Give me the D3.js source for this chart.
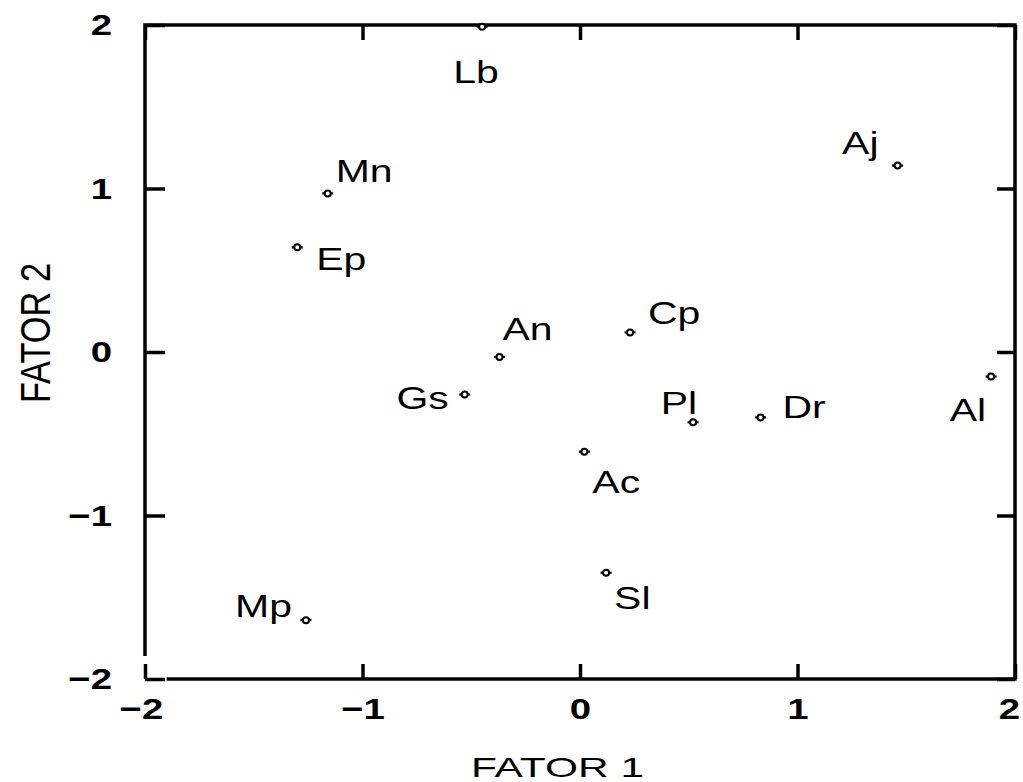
<!DOCTYPE html>
<html>
<head>
<meta charset="utf-8">
<script src="https://cdn.jsdelivr.net/npm/d3@7"></script>
<style>
  body { margin: 0; background: #fff; }
  svg { display: block; }
  text { font-family: "Liberation Sans", Arial, sans-serif; fill: #000; }
</style>
</head>
<body>
<div id="chart"></div>
<script>
// scores on the two factors, one entry per item
var names  = ['Lb', 'Mn', 'Ep', 'An', 'Gs', 'Cp', 'Pl', 'Dr', 'Ac', 'Sl', 'Aj', 'Al', 'Mp'];
var fator1 = [-0.45, -1.16, -1.30, -0.37, -0.53, 0.23, 0.52, 0.83, 0.02, 0.12, 1.46, 1.89, -1.26];
var fator2 = [1.99, 0.97, 0.64, -0.03, -0.26, 0.12, -0.43, -0.40, -0.61, -1.35, 1.14, -0.15, -1.64];
var tickValues = [-2, -1, 0, 1, 2];

// where each name sits next to its point (pixels), and which side it is anchored
var labelPlace = {
  Lb: [-29, 56, 'start'], Mn: [8, -11, 'start'], Ep: [19, 23, 'start'],
  An: [3, -17, 'start'],  Gs: [-16, 14, 'end'],  Cp: [18, -8, 'start'],
  Pl: [4, -8, 'end'],     Dr: [22, 1, 'start'],  Ac: [8, 41, 'start'],
  Sl: [8, 36, 'start'],   Aj: [-19, -12, 'end'], Al: [-5, 44, 'end'],
  Mp: [-14, -3, 'end']
};

var W = 1023, H = 782;
var stretch = 1.28; // the scanned letters are wide

var svg = d3.select('#chart').append('svg')
  .attr('width', W).attr('height', H);

var x = d3.scaleLinear().domain([-2, 2]).range([145, 1015]);
var y = d3.scaleLinear().domain([-2, 2]).range([679, 25]);
var fmt = d3.format('d');

function styleAxis(g, showText) {
  g.select('.domain').remove();
  g.selectAll('.tick line').attr('stroke', '#000').attr('stroke-width', 3.5);
  if (!showText) g.selectAll('.tick text').remove();
  g.selectAll('.tick text')
    .style('font-size', '30px')
    .style('font-weight', 'bold')
    .style('font-family', '"Liberation Sans", Arial, sans-serif');
}

// bottom: ticks pointing inward, labels below
svg.append('g')
  .attr('transform', 'translate(0,' + y(-2) + ')')
  .call(d3.axisBottom(x).tickValues(tickValues).tickFormat(fmt).tickSizeInner(-15).tickSizeOuter(0).tickPadding(19))
  .call(styleAxis, true)
  .selectAll('.tick text')
  .attr('x', function(d) { return d === 2 ? -6 / stretch : (d === -2 ? -4 / stretch : 0); })
  .attr('transform', 'scale(' + stretch + ',1)');

svg.append('g')
  .attr('transform', 'translate(0,' + y(2) + ')')
  .call(d3.axisTop(x).tickValues(tickValues).tickSizeInner(-15).tickSizeOuter(0))
  .call(styleAxis, false);

svg.append('g')
  .attr('transform', 'translate(' + x(-2) + ',0)')
  .call(d3.axisLeft(y).tickValues(tickValues).tickFormat(fmt).tickSizeInner(-20).tickSizeOuter(0).tickPadding(33))
  .call(styleAxis, true)
  .selectAll('.tick text')
  .attr('x', -33 / stretch)
  .attr('transform', 'scale(' + stretch + ',1)');

svg.append('g')
  .attr('transform', 'translate(' + x(2) + ',0)')
  .call(d3.axisRight(y).tickValues(tickValues).tickSizeInner(-18).tickSizeOuter(0))
  .call(styleAxis, false);

// frame (the scan lost the bottom-left corner)
var frame = svg.append('g').attr('stroke', '#000').attr('stroke-width', 3.5).attr('fill', 'none');
frame.append('path').attr('d', d3.line()([
  [x(-2), y(-1.86)], [x(-2), y(2)], [x(2), y(2)], [x(2), y(-2)], [x(-1.9), y(-2)]
])).attr('stroke-linejoin', 'miter');

// points
var pts = svg.append('g').selectAll('g.pt')
  .data(names.map(function(n, i) { return {name: n, f1: fator1[i], f2: fator2[i]}; }))
  .enter().append('g')
  .attr('class', 'pt')
  .attr('transform', function(d) { return 'translate(' + x(d.f1) + ',' + y(d.f2) + ')'; });

pts.append('line')
  .attr('x1', -5.5).attr('x2', 5.5)
  .attr('stroke', '#000').attr('stroke-width', 2.2);
pts.append('circle')
  .attr('r', 3)
  .attr('fill', '#fff').attr('stroke', '#000').attr('stroke-width', 2);

pts.append('text')
  .attr('transform', function(d) {
    var p = labelPlace[d.name];
    return 'translate(' + p[0] + ',' + p[1] + ') scale(' + stretch + ',1)';
  })
  .attr('text-anchor', function(d) { return labelPlace[d.name][2]; })
  .style('font-size', '32px')
  .text(function(d) { return d.name; });

// axis titles
svg.append('text')
  .attr('x', 557 - 86).attr('y', 777)
  .attr('textLength', 173).attr('lengthAdjust', 'spacingAndGlyphs')
  .style('font-size', '28px')
  .text('FATOR 1');

svg.append('text')
  .attr('transform', 'translate(50,' + (333 + 70) + ') rotate(-90) scale(1,1.5)')
  .attr('textLength', 140).attr('lengthAdjust', 'spacingAndGlyphs')
  .style('font-size', '28px')
  .text('FATOR 2');
</script>
</body>
</html>
